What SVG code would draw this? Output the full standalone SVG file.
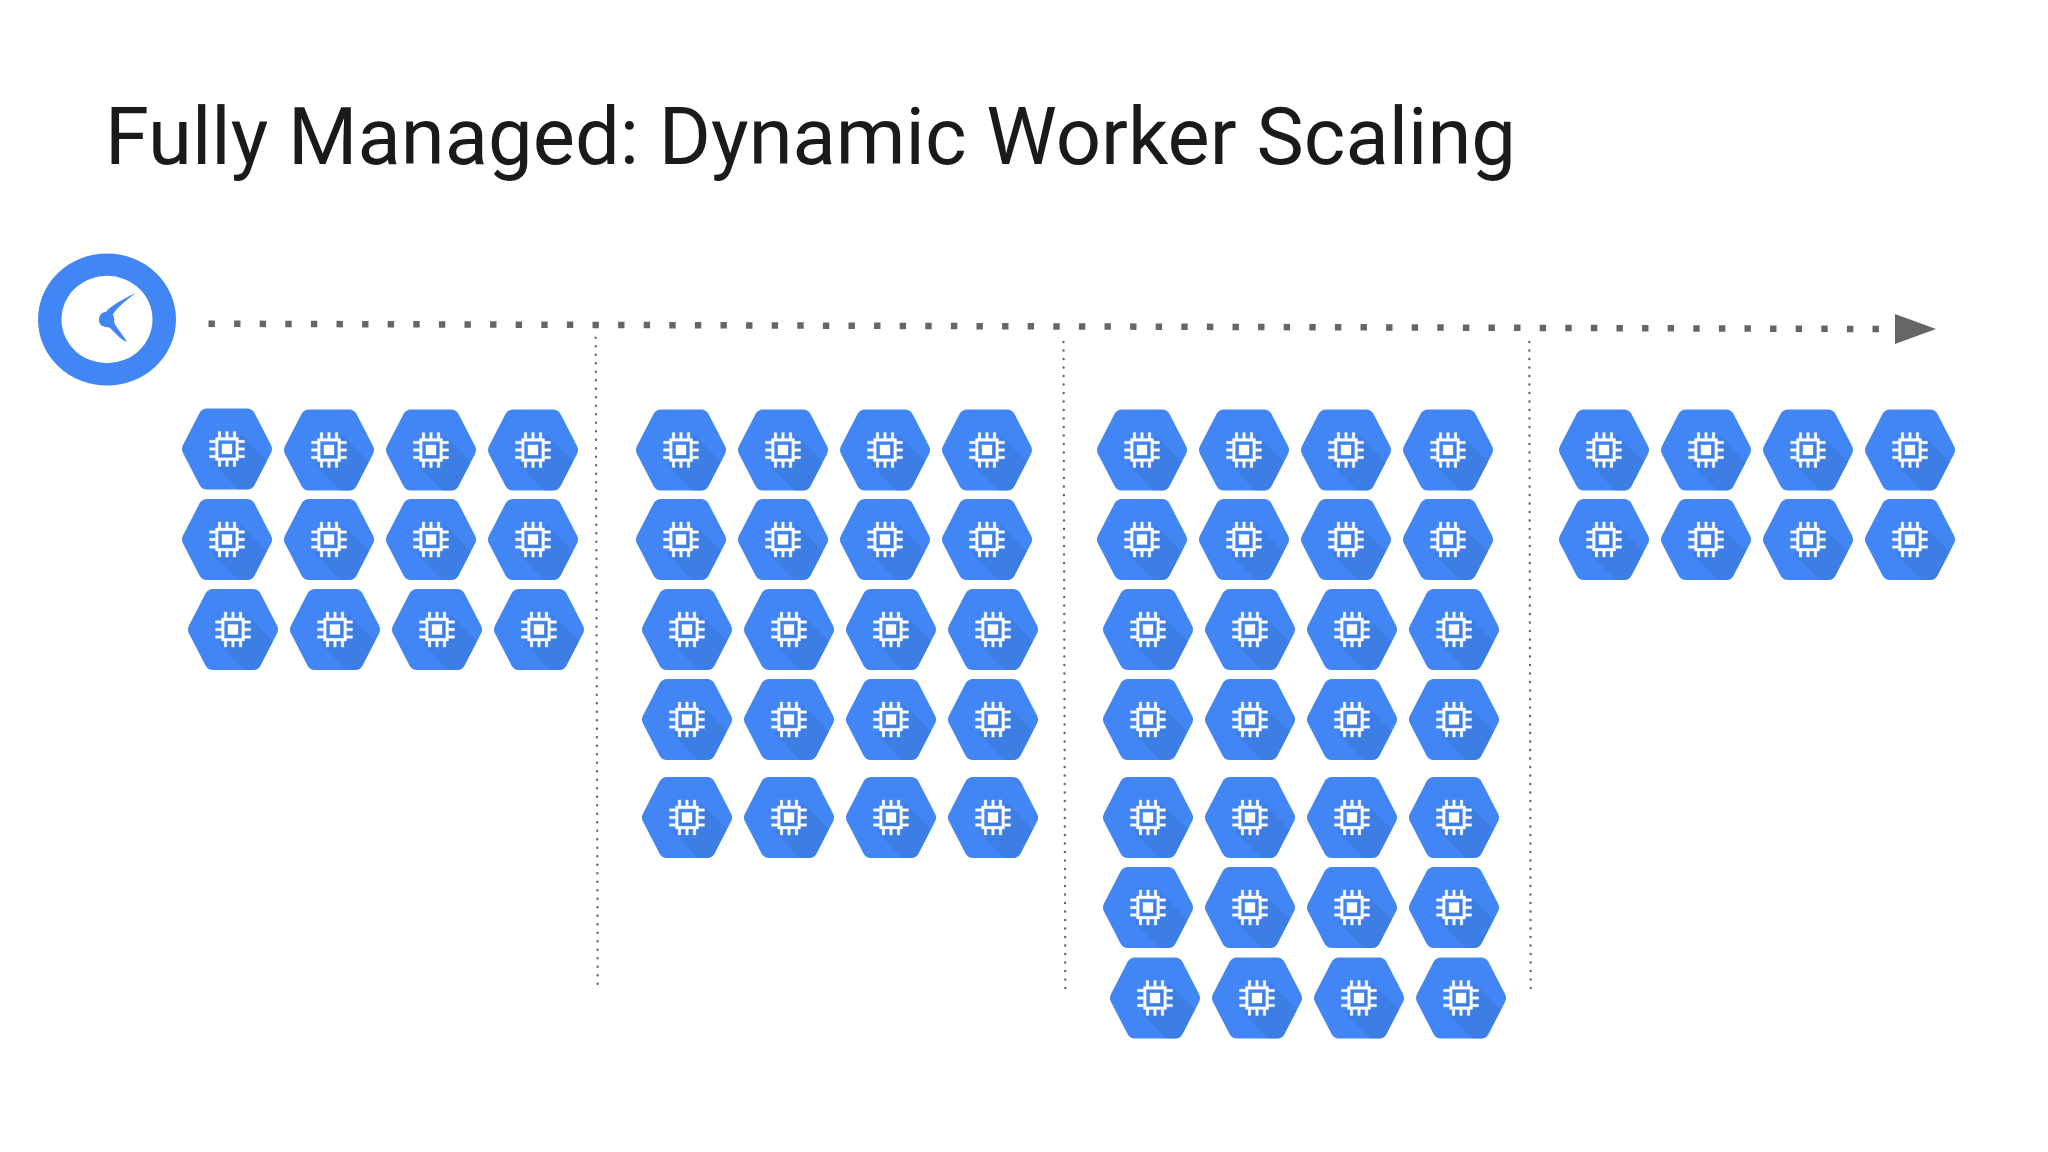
<svg xmlns="http://www.w3.org/2000/svg" width="2048" height="1152" viewBox="0 0 2048 1152">
<style>
.title{font-family:Roboto,"Liberation Sans",sans-serif;font-size:79px;fill:#1a1a1a}
.t{fill:none;stroke:#666;stroke-width:6.5;stroke-dasharray:6.4 19.2}
.v{fill:none;stroke:#666;stroke-width:2.4;stroke-linecap:round;stroke-dasharray:0 8.5}
</style>
<defs>
<clipPath id="hc"><path d="M-20-40.500H20Q25-40.500 27.500-36L44-4Q46 0 44 4L27.500 36Q25 40.500 20 40.500H-20Q-25 40.500-27.500 36L-44 4Q-46 0-44-4L-27.500-36Q-25-40.500-20-40.500Z"/></clipPath>
<symbol id="vm" overflow="visible" viewBox="-50 -45 100 90" width="100" height="90" x="-50" y="-45">
<path d="M-20-40.500H20Q25-40.500 27.500-36L44-4Q46 0 44 4L27.500 36Q25 40.500 20 40.500H-20Q-25 40.500-27.500 36L-44 4Q-46 0-44-4L-27.500-36Q-25-40.500-20-40.500Z" fill="#4285f4"/>
<path d="M14-14L60 32V60H30L-14 14Z" fill="#3b78d8" opacity=".55" clip-path="url(#hc)"/>
<g fill="#fff" stroke="#fff" stroke-width=".3">
<path fill-rule="evenodd" d="M-11.500-11.500H11.500V11.500H-11.500ZM-8.800-8.800V8.800H8.800V-8.800Z"/>
<rect x="-5" y="-5" width="10" height="10"/>
<path d="M-8.800-17.500h2.600v6h-2.600zM-1.300-17.500h2.600v6h-2.600zM6.200-17.500h2.600v6h-2.600zM-8.800 11.500h2.600v6h-2.600zM-1.300 11.500h2.600v6h-2.600zM6.200 11.500h2.600v6h-2.600zM-17.500-8.800h6v2.600h-6zM-17.500-1.300h6v2.600h-6zM-17.500 6.200h6v2.600h-6zM11.500-8.800h6v2.600h-6zM11.500-1.300h6v2.600h-6zM11.500 6.200h6v2.600h-6z"/>
</g>
</symbol>
</defs>
<rect width="2048" height="1152" fill="#fff"/>
<text class="title" x="105" y="164" textLength="1411" lengthAdjust="spacingAndGlyphs">Fully Managed: Dynamic Worker Scaling</text>
<g id="clock">
<path fill-rule="evenodd" d="M176 319.500a69 66 0 1 1-138 0a69 66 0 1 1 138 0ZM152.500 319.500a45.500 43.700 0 1 0-91 0a45.500 43.700 0 1 0 91 0Z" fill="#4285f4"/>
<path d="M136 293C121 300 109 307 106 312C101 312 99 316 99 320C99 325 103 327 107 327C112 327 117 338 127 342C122 333 114 325 114 321C115 318 113 316 113 314C118 307 126 300 136 293Z" fill="#4285f4"/>
</g>
<g id="connectors">
<path id="timeline" class="t" d="M208.500 323.700L1880 329"/>
<polygon id="arrowhead" points="1895,314 1936,329 1895,344" fill="#666"/>
<path class="v" d="M595.700 337.700L597.700 986.500"/>
<path class="v" d="M1063.500 342L1065.300 991.500"/>
<path class="v" d="M1529.300 342L1530.700 990.500"/>
</g>
<g id="vm-1-1"><use href="#vm" transform="translate(227 449)"/></g>
<g id="vm-1-2"><use href="#vm" transform="translate(329 450)"/></g>
<g id="vm-1-3"><use href="#vm" transform="translate(431 450)"/></g>
<g id="vm-1-4"><use href="#vm" transform="translate(533 450)"/></g>
<g id="vm-1-5"><use href="#vm" transform="translate(227 539.500)"/></g>
<g id="vm-1-6"><use href="#vm" transform="translate(329 539.500)"/></g>
<g id="vm-1-7"><use href="#vm" transform="translate(431 539.500)"/></g>
<g id="vm-1-8"><use href="#vm" transform="translate(533 539.500)"/></g>
<g id="vm-1-9"><use href="#vm" transform="translate(233 629.500)"/></g>
<g id="vm-1-10"><use href="#vm" transform="translate(335 629.500)"/></g>
<g id="vm-1-11"><use href="#vm" transform="translate(437 629.500)"/></g>
<g id="vm-1-12"><use href="#vm" transform="translate(539 629.500)"/></g>
<g id="vm-2-1"><use href="#vm" transform="translate(681 450)"/></g>
<g id="vm-2-2"><use href="#vm" transform="translate(783 450)"/></g>
<g id="vm-2-3"><use href="#vm" transform="translate(885 450)"/></g>
<g id="vm-2-4"><use href="#vm" transform="translate(987 450)"/></g>
<g id="vm-2-5"><use href="#vm" transform="translate(681 539.500)"/></g>
<g id="vm-2-6"><use href="#vm" transform="translate(783 539.500)"/></g>
<g id="vm-2-7"><use href="#vm" transform="translate(885 539.500)"/></g>
<g id="vm-2-8"><use href="#vm" transform="translate(987 539.500)"/></g>
<g id="vm-2-9"><use href="#vm" transform="translate(687 629.500)"/></g>
<g id="vm-2-10"><use href="#vm" transform="translate(789 629.500)"/></g>
<g id="vm-2-11"><use href="#vm" transform="translate(891 629.500)"/></g>
<g id="vm-2-12"><use href="#vm" transform="translate(993 629.500)"/></g>
<g id="vm-2-13"><use href="#vm" transform="translate(687 719.500)"/></g>
<g id="vm-2-14"><use href="#vm" transform="translate(789 719.500)"/></g>
<g id="vm-2-15"><use href="#vm" transform="translate(891 719.500)"/></g>
<g id="vm-2-16"><use href="#vm" transform="translate(993 719.500)"/></g>
<g id="vm-2-17"><use href="#vm" transform="translate(687 817.500)"/></g>
<g id="vm-2-18"><use href="#vm" transform="translate(789 817.500)"/></g>
<g id="vm-2-19"><use href="#vm" transform="translate(891 817.500)"/></g>
<g id="vm-2-20"><use href="#vm" transform="translate(993 817.500)"/></g>
<g id="vm-3-1"><use href="#vm" transform="translate(1142 450)"/></g>
<g id="vm-3-2"><use href="#vm" transform="translate(1244 450)"/></g>
<g id="vm-3-3"><use href="#vm" transform="translate(1346 450)"/></g>
<g id="vm-3-4"><use href="#vm" transform="translate(1448 450)"/></g>
<g id="vm-3-5"><use href="#vm" transform="translate(1142 539.500)"/></g>
<g id="vm-3-6"><use href="#vm" transform="translate(1244 539.500)"/></g>
<g id="vm-3-7"><use href="#vm" transform="translate(1346 539.500)"/></g>
<g id="vm-3-8"><use href="#vm" transform="translate(1448 539.500)"/></g>
<g id="vm-3-9"><use href="#vm" transform="translate(1148 629.500)"/></g>
<g id="vm-3-10"><use href="#vm" transform="translate(1250 629.500)"/></g>
<g id="vm-3-11"><use href="#vm" transform="translate(1352 629.500)"/></g>
<g id="vm-3-12"><use href="#vm" transform="translate(1454 629.500)"/></g>
<g id="vm-3-13"><use href="#vm" transform="translate(1148 719.500)"/></g>
<g id="vm-3-14"><use href="#vm" transform="translate(1250 719.500)"/></g>
<g id="vm-3-15"><use href="#vm" transform="translate(1352 719.500)"/></g>
<g id="vm-3-16"><use href="#vm" transform="translate(1454 719.500)"/></g>
<g id="vm-3-17"><use href="#vm" transform="translate(1148 817.500)"/></g>
<g id="vm-3-18"><use href="#vm" transform="translate(1250 817.500)"/></g>
<g id="vm-3-19"><use href="#vm" transform="translate(1352 817.500)"/></g>
<g id="vm-3-20"><use href="#vm" transform="translate(1454 817.500)"/></g>
<g id="vm-3-21"><use href="#vm" transform="translate(1148 907.500)"/></g>
<g id="vm-3-22"><use href="#vm" transform="translate(1250 907.500)"/></g>
<g id="vm-3-23"><use href="#vm" transform="translate(1352 907.500)"/></g>
<g id="vm-3-24"><use href="#vm" transform="translate(1454 907.500)"/></g>
<g id="vm-3-25"><use href="#vm" transform="translate(1155 998)"/></g>
<g id="vm-3-26"><use href="#vm" transform="translate(1257 998)"/></g>
<g id="vm-3-27"><use href="#vm" transform="translate(1359 998)"/></g>
<g id="vm-3-28"><use href="#vm" transform="translate(1461 998)"/></g>
<g id="vm-4-1"><use href="#vm" transform="translate(1604 450)"/></g>
<g id="vm-4-2"><use href="#vm" transform="translate(1706 450)"/></g>
<g id="vm-4-3"><use href="#vm" transform="translate(1808 450)"/></g>
<g id="vm-4-4"><use href="#vm" transform="translate(1910 450)"/></g>
<g id="vm-4-5"><use href="#vm" transform="translate(1604 539.500)"/></g>
<g id="vm-4-6"><use href="#vm" transform="translate(1706 539.500)"/></g>
<g id="vm-4-7"><use href="#vm" transform="translate(1808 539.500)"/></g>
<g id="vm-4-8"><use href="#vm" transform="translate(1910 539.500)"/></g>
</svg>
